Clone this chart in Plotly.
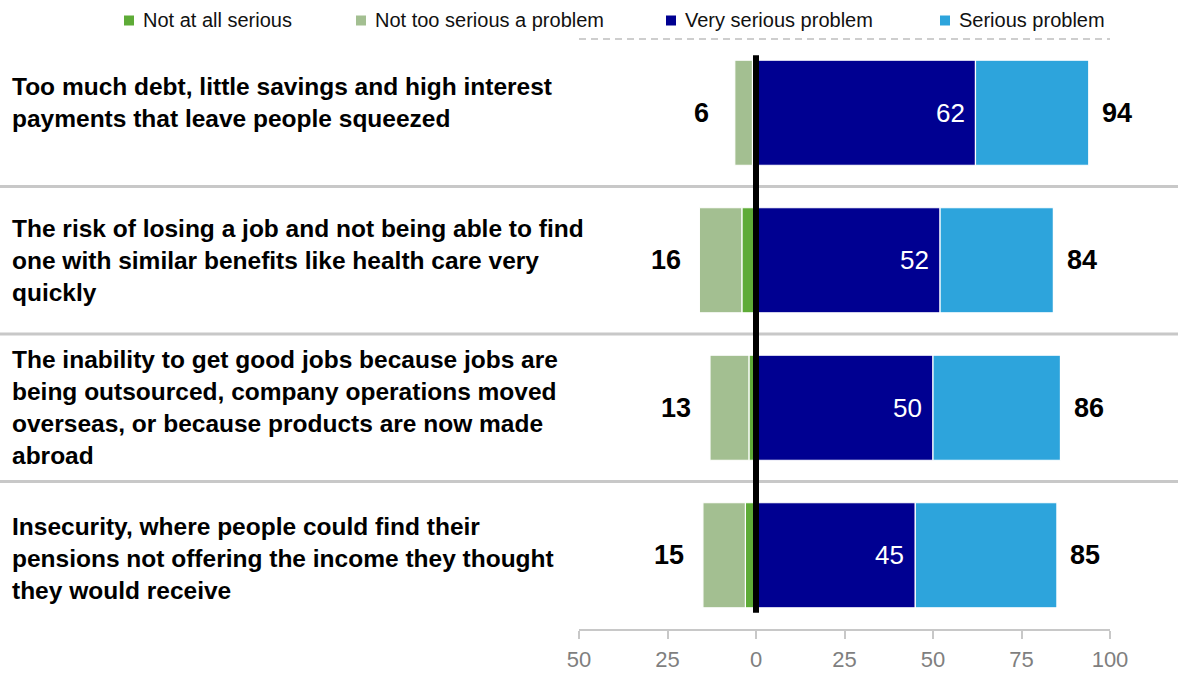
import plotly.graph_objects as go

# ---- data -------------------------------------------------------------
categories = [
    "Too much debt, little savings and high interest<br>payments that leave people squeezed",
    "The risk of losing a job and not being able to find<br>one with similar benefits like health care very<br>quickly",
    "The inability to get good jobs because jobs are<br>being outsourced, company operations moved<br>overseas, or because products are now made<br>abroad",
    "Insecurity, where people could find their<br>pensions not offering the income they thought<br>they would receive",
]
not_at_all = [1, 4, 2, 3]
not_too = [5, 12, 11, 12]
very_serious = [62, 52, 50, 45]
serious = [32, 32, 36, 40]

tick_vals = [-50, -25, 0, 25, 50, 75, 100]
tick_text = ["50", "25", "0", "25", "50", "75", "100"]

series_names = ["Not at all serious", "Not too serious a problem",
                "Very serious problem", "Serious problem"]
colors = ["#5EAB37", "#A3BF91", "#000091", "#2DA4DC"]

# ---- layout geometry (pixels) -------------------------------------------
W, H = 1178, 675
M_L, M_R, M_T, M_B = 579, 68, 39, 46
PW, PH = W - M_L - M_R, H - M_T - M_B
FONT = "Arial, 'Liberation Sans', sans-serif"


def px_x(px):
    return (px - M_L) / PW


def px_y(py):
    return (H - M_B - py) / PH


rows = list(range(len(categories)))
neg_total = [a + b for a, b in zip(not_at_all, not_too)]
pos_total = [a + b for a, b in zip(very_serious, serious)]

fig = go.Figure()
values = [[-v for v in not_at_all], [-v for v in not_too], very_serious, serious]
for name, vals, col in zip(series_names, values, colors):
    fig.add_trace(go.Bar(
        y=rows, x=vals, orientation="h", name=name,
        marker=dict(color=col, line=dict(color="white", width=1.2)),
        showlegend=False, hoverinfo="skip",
    ))

annotations = []
shapes = []

# category labels on the left
label_nudge = [10, 0, 0, -3]
for r, txt in zip(rows, categories):
    annotations.append(dict(
        x=px_x(10), xref="paper", y=r, yref="y", text=f"<b>{txt}</b>",
        xanchor="left", yanchor="middle", align="left", showarrow=False,
        yshift=label_nudge[r], font=dict(size=24.5, color="black", family=FONT)))

for r in rows:
    # value of the "very serious" segment, inside its end
    annotations.append(dict(
        x=very_serious[r] - 2.5, y=r, xref="x", yref="y",
        text=str(very_serious[r]), showarrow=False,
        xanchor="right", yanchor="middle",
        font=dict(size=26, color="white", family=FONT)))
    # totals either side of the bars
    annotations.append(dict(
        x=-neg_total[r] - 9.5, y=r, xref="x", yref="y",
        text=f"<b>{neg_total[r]}</b>", showarrow=False,
        xanchor="center", yanchor="middle",
        font=dict(size=27, color="black", family=FONT)))
    annotations.append(dict(
        x=pos_total[r] + 3.2, y=r, xref="x", yref="y",
        text=f"<b>{pos_total[r]}</b>", showarrow=False,
        xanchor="left", yanchor="middle",
        font=dict(size=27, color="black", family=FONT)))

# separators between rows
for r in rows[:-1]:
    shapes.append(dict(type="line", xref="paper", yref="y",
                       x0=px_x(0), x1=px_x(W), y0=r + 0.5, y1=r + 0.5,
                       line=dict(color="#C8C8C8", width=3), layer="below"))

# dashed top border of the plotting area
shapes.append(dict(type="line", xref="x", yref="paper",
                   x0=tick_vals[0], x1=tick_vals[-1], y0=1, y1=1,
                   line=dict(color="#BFBFBF", width=1.5, dash="7px,5px")))

# heavy zero line
shapes.append(dict(type="line", xref="x", yref="y", x0=0, x1=0,
                   y0=rows[0] - 0.39, y1=rows[-1] + 0.39,
                   line=dict(color="black", width=6), layer="above"))

# legend
legend_text_x = [141, 373, 683, 957]
for name, col, tx in zip(series_names, colors, legend_text_x):
    shapes.append(dict(type="rect", xref="paper", yref="paper",
                       x0=px_x(tx - 17), x1=px_x(tx - 7),
                       y0=px_y(25.5), y1=px_y(15.5),
                       fillcolor=col, line=dict(width=0)))
    annotations.append(dict(
        x=px_x(tx), y=px_y(20.5), xref="paper", yref="paper", text=name,
        xanchor="left", yanchor="middle", showarrow=False,
        font=dict(size=20, color="#111111", family=FONT)))

fig.update_layout(
    width=W, height=H, autosize=False,
    margin=dict(l=M_L, r=M_R, t=M_T, b=M_B, pad=0),
    paper_bgcolor="white", plot_bgcolor="white",
    barmode="relative", bargap=0.288,
    font=dict(family=FONT),
    xaxis=dict(range=[tick_vals[0], tick_vals[-1]], tickvals=tick_vals,
               ticktext=tick_text, showgrid=False, zeroline=False,
               showline=True, linecolor="#C8C8C8", linewidth=2,
               ticks="outside", ticklen=8, tickwidth=2, tickcolor="#C8C8C8",
               ticklabelstandoff=2, automargin=False,
               tickfont=dict(size=22, color="#7F7F7F", family=FONT)),
    yaxis=dict(range=[len(rows) - 0.5, -0.5], showticklabels=False,
               showgrid=False, zeroline=False, showline=False, ticks="",
               automargin=False),
    annotations=annotations, shapes=shapes,
)

fig.write_html("out.html")
